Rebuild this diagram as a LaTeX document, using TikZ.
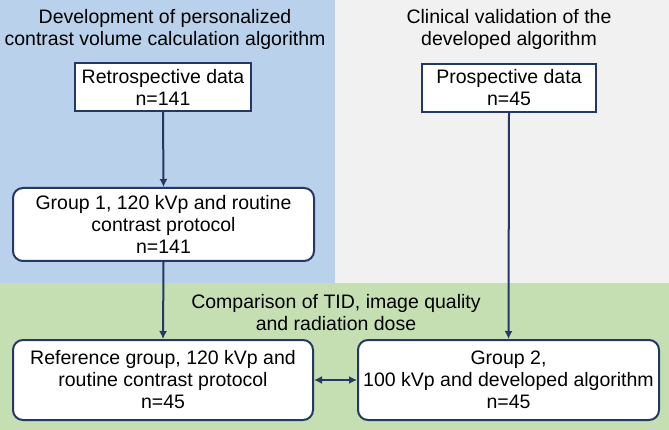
\documentclass[tikz,border=0pt]{standalone}
\usepackage{fontspec}
\setmainfont{Liberation Sans}
\usetikzlibrary{arrows.meta}
\definecolor{bgblue}{RGB}{185,209,234}
\definecolor{bggray}{RGB}{241,241,241}
\definecolor{bggreen}{RGB}{197,223,179}
\definecolor{navy}{RGB}{37,55,100}
\tikzset{
  sqbox/.style={draw=navy, line width=2pt, fill=white, inner sep=0pt, align=center, font=\fontsize{19.5}{22}\selectfont},
  rbox/.style={sqbox, rounded corners=10pt},
  ttl/.style={align=center, inner sep=0pt, font=\fontsize{19.5}{22}\selectfont},
  arr/.style={draw=navy, line width=2pt, -{Latex[length=8pt,width=8pt]}},
  darr/.style={draw=navy, line width=2pt, {Latex[length=8pt,width=8pt]}-{Latex[length=8pt,width=8pt]}}
}
\begin{document}
\begin{tikzpicture}[x=1pt,y=-1pt]
\useasboundingbox (0,0) rectangle (669,430);
\fill[bgblue] (0,0) rectangle (335,283);
\fill[bggray] (335,0) rectangle (669,283);
\fill[bggreen] (0,283) rectangle (669,430);

\node[ttl] (t1) at (165,29) {Development of personalized\\contrast volume calculation algorithm};
\node[ttl] (t2) at (509,29) {Clinical validation of the\\developed algorithm};
\node[ttl] (t3) at (336,313) {Comparison of TID, image quality\\and radiation dose};

\node[sqbox, minimum width=176pt, minimum height=48pt] (retro) at (163,87) {Retrospective data\\n=141};
\node[sqbox, minimum width=174pt, minimum height=48pt] (pro) at (509,88) {Prospective data\\n=45};
\node[rbox, minimum width=301pt, minimum height=73pt] (g1) at (163.5,224.5) {Group 1, 120 kVp and routine\\contrast protocol\\n=141};
\node[rbox, minimum width=300pt, minimum height=80pt] (ref) at (163,380) {Reference group, 120 kVp and\\routine contrast protocol\\n=45};
\node[rbox, minimum width=301pt, minimum height=80pt] (g2) at (508.5,380) {Group 2,\\100 kVp and developed algorithm\\n=45};

\draw[arr] (retro.south) -- (g1.north);
\draw[arr] (g1.south) -- (ref.north);
\draw[arr] (pro.south) -- (g2.north);
\draw[darr] (ref.east) -- (g2.west);
\end{tikzpicture}
\end{document}
